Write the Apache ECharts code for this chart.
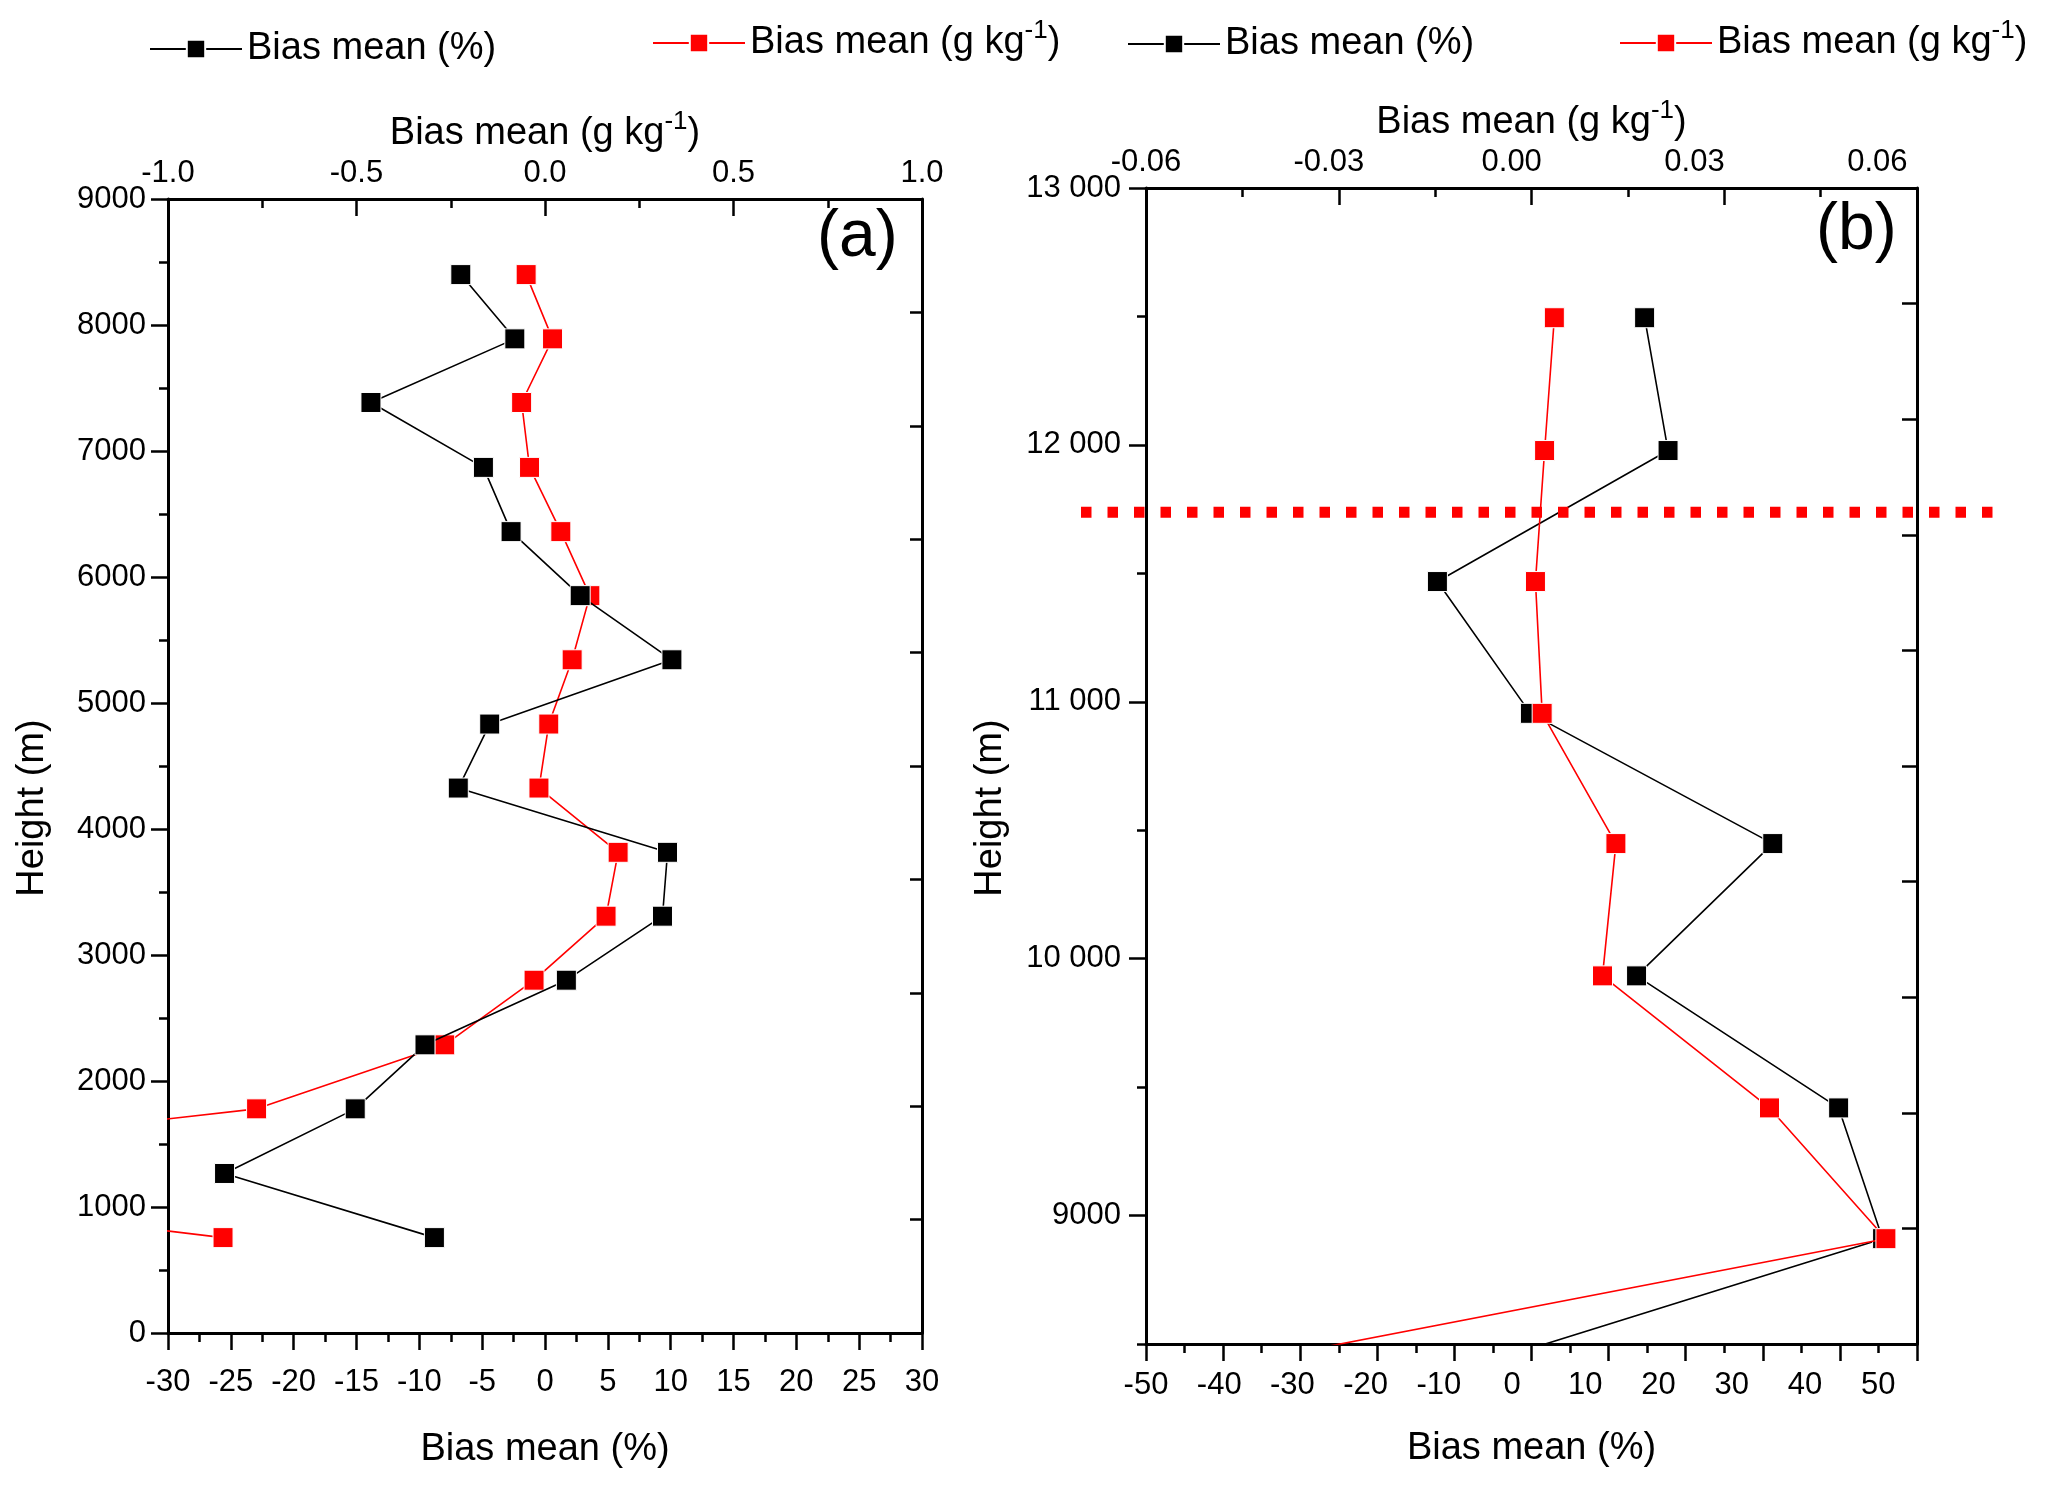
<!DOCTYPE html>
<html><head><meta charset="utf-8">
<script src="https://cdn.jsdelivr.net/npm/echarts@6/dist/echarts.min.js"></script>
<style>html,body{margin:0;padding:0;background:#fff}#c{width:2067px;height:1489px}</style>
</head><body><div id="c"></div>
<script>
// ---------- Panel (a) ----------
const heightsA = [8400, 7890, 7385, 6870, 6360, 5852, 5343, 4833, 4325, 3815, 3308, 2800, 2287, 1779, 1266, 757];
const pctA = [-6.7, -2.4, -13.85, -4.9, -2.7, 2.8, 10.1, -4.4, -6.9, 9.75, 9.35, 1.7, -9.55, -15.1, -25.5, -8.8];
const gkgA = [-0.05, 0.02, -0.062, -0.041, 0.042, 0.119, 0.072, 0.010, -0.016, 0.194, 0.162, -0.029, -0.266, -0.765, -2.27, -0.854];
// ---------- Panel (b) ----------
const heightsB = [12495, 11978, 11468, 10955, 10448, 9933, 9419, 8910, 8400];
const pctB = [18.1, 21.3, -10.2, 2.5, 35.6, 17.0, 44.6, 50.6, -6.7];
const gkgB = [0.007, 0.0054, 0.0039, 0.005, 0.0171, 0.0149, 0.0423, 0.0614, -0.05];
const tropopauseB = 11738;
// ---------- Tick labels ----------
const pctTicksB = [-50, -40, -30, -20, -10, 0, 10, 20, 30, 40, 50];
const gkgTicksB = [-0.06, -0.03, 0, 0.03, 0.06];
const heightTicksB = [9000, 10000, 11000, 12000, 13000];
const legendNames = ['Bias mean (%)', 'Bias mean (g kg-1)', 'Bias mean (%)', 'Bias mean (g kg-1)'];

const FONT = 'Liberation Sans';
const supName = '{n|Bias mean (g kg}{s|-1}{n|)}';
const richT = {
  n: { fontSize: 38, lineHeight: 50, fontFamily: FONT, color: '#000' },
  s: { fontSize: 26, lineHeight: 26, verticalAlign: 'top', fontFamily: FONT, color: '#000' }
};
const lineC = { onZero: false, lineStyle: { color: '#000', width: 3 } };
function tick(len, inside) { return { show: true, inside: !!inside, length: len, lineStyle: { color: '#000', width: 2.5 } }; }
function minor(len) { return { show: true, splitNumber: 2, length: len, lineStyle: { color: '#000', width: 2.5 } }; }
const lab = (m) => ({ color: '#000', fontSize: 31, fontFamily: FONT, margin: m });
const noSplit = { show: false };
const hidLine = { show: false, onZero: false };

function pair(a, b) { return a.map((v, i) => [v, b[i]]); }
function fmtH(v) { return v >= 10000 ? String(v).replace(/(\d+)(\d{3})$/, '$1 $2') : String(v); }

const chart = echarts.init(document.getElementById('c'), null, { renderer: 'canvas' });

const option = {
  backgroundColor: '#fff',
  animation: false,
  textStyle: { fontFamily: FONT },
  title: [
    { text: '(a)', left: 817, top: 205, padding: 0, textStyle: { fontSize: 66, fontWeight: 'normal', fontFamily: FONT, color: '#000' } },
    { text: '(b)', left: 1816, top: 198, padding: 0, textStyle: { fontSize: 66, fontWeight: 'normal', fontFamily: FONT, color: '#000' } }
  ],
  legend: ['aPct', 'aG', 'bPct', 'bG'].map((nm, i) => ({
    data: [nm],
    left: [149, 652, 1127, 1619][i],
    top: [30, 18, 25, 18][i],
    padding: 0,
    itemWidth: 92,
    itemHeight: 23,
    formatter: () => legendNames[i].indexOf('-1') >= 0 ? supName : '{n|' + legendNames[i] + '}',
    textStyle: { rich: richT }
  })),
  grid: [
    { left: 168, top: 199, width: 754, height: 1134 },
    { left: 1146, top: 188, width: 771, height: 1156 },
    { left: 1081, top: 188, width: 913, height: 1156 }
  ],
  xAxis: [
    // 0: panel a bottom (%)
    { gridIndex: 0, type: 'value', position: 'bottom', min: -30, max: 30, interval: 5,
      axisLine: lineC, axisTick: tick(17), minorTick: minor(9), splitLine: noSplit, minorSplitLine: noSplit,
      axisLabel: lab(34),
      name: 'Bias mean (%)', nameLocation: 'middle', nameGap: 92,
      nameTextStyle: { fontSize: 38, lineHeight: 50, color: '#000', fontFamily: FONT } },
    // 1: panel a top (g/kg)
    { gridIndex: 0, type: 'value', position: 'top', min: -1, max: 1, interval: 0.5,
      axisLine: lineC, axisTick: tick(17, true), minorTick: minor(9), splitLine: noSplit, minorSplitLine: noSplit,
      axisLabel: Object.assign(lab(10), { formatter: v => v.toFixed(1) }),
      name: supName, nameLocation: 'middle', nameGap: 40,
      nameTextStyle: { rich: richT } },
    // 2: panel b bottom ticks
    { gridIndex: 1, type: 'value', position: 'bottom', min: -50, max: 50, interval: 10,
      axisLine: lineC, axisTick: tick(17), minorTick: minor(9), splitLine: noSplit, minorSplitLine: noSplit,
      axisLabel: { show: false } },
    // 3: panel b bottom labels (data)
    { gridIndex: 1, type: 'value', position: 'bottom', min: -50, max: 55.3,
      axisLine: hidLine, axisTick: { show: false }, splitLine: noSplit,
      axisLabel: Object.assign(lab(26), { customValues: pctTicksB }),
      name: 'Bias mean (%)', nameLocation: 'middle', nameGap: 80,
      nameTextStyle: { fontSize: 38, lineHeight: 50, color: '#000', fontFamily: FONT } },
    // 4: panel b top ticks
    { gridIndex: 1, type: 'value', position: 'top', min: -0.06, max: 0.06, interval: 0.03,
      axisLine: lineC, axisTick: tick(17, true), minorTick: minor(9), splitLine: noSplit, minorSplitLine: noSplit,
      axisLabel: { show: false } },
    // 5: panel b top labels (data)
    { gridIndex: 1, type: 'value', position: 'top', min: -0.06, max: 0.0665,
      axisLine: hidLine, axisTick: { show: false }, splitLine: noSplit,
      axisLabel: Object.assign(lab(10), { customValues: gkgTicksB, formatter: v => v.toFixed(2) }),
      name: supName, nameLocation: 'middle', nameGap: 40,
      nameTextStyle: { rich: richT } },
    // 6: helper for tropopause line
    { gridIndex: 2, type: 'value', min: 0, max: 1, show: false, axisLine: hidLine }
  ],
  yAxis: [
    // 0: panel a left
    { gridIndex: 0, type: 'value', position: 'left', min: 0, max: 9000, interval: 1000,
      axisLine: lineC, axisTick: tick(17), minorTick: minor(9), splitLine: noSplit, minorSplitLine: noSplit,
      axisLabel: Object.assign(lab(22), { formatter: v => String(v) }),
      name: 'Height (m)', nameLocation: 'middle', nameGap: 110,
      nameTextStyle: { fontSize: 38, lineHeight: 50, color: '#000', fontFamily: FONT, padding: [0, 84, 0, 0] } },
    // 1: panel a right
    { gridIndex: 0, type: 'value', position: 'right', min: 0, max: 10, interval: 1,
      axisLine: lineC, axisTick: tick(12, true), splitLine: noSplit, axisLabel: { show: false } },
    // 2: panel b left minor ticks (data)
    { gridIndex: 1, type: 'value', position: 'left', min: 8500, max: 13000, interval: 500,
      axisLine: lineC, axisTick: tick(9), splitLine: noSplit, axisLabel: { show: false },
      name: 'Height (m)', nameLocation: 'middle', nameGap: 130,
      nameTextStyle: { fontSize: 38, lineHeight: 50, color: '#000', fontFamily: FONT, padding: [0, 84, 0, 0] } },
    // 3: panel b left major ticks + labels
    { gridIndex: 1, type: 'value', position: 'left', min: 8500, max: 13000,
      axisLine: hidLine, splitLine: noSplit,
      axisTick: Object.assign(tick(17), { customValues: heightTicksB }),
      axisLabel: Object.assign(lab(25), { customValues: heightTicksB, formatter: fmtH }) },
    // 4: panel b right
    { gridIndex: 1, type: 'value', position: 'right', min: 0, max: 10, interval: 1,
      axisLine: lineC, axisTick: tick(15, true), splitLine: noSplit, axisLabel: { show: false } },
    // 5: helper for tropopause line
    { gridIndex: 2, type: 'value', min: 8500, max: 13000, show: false, axisLine: hidLine }
  ],
  series: [
    { name: 'aG', type: 'line', xAxisIndex: 1, yAxisIndex: 0, data: pair(gkgA, heightsA), z: 2,
      symbol: 'rect', symbolSize: 20, color: '#ff0000',
      lineStyle: { color: '#ff0000', width: 1.6 }, itemStyle: { color: '#ff0000', borderColor: '#fff', borderWidth: 1 } },
    { name: 'aPct', type: 'line', xAxisIndex: 0, yAxisIndex: 0, data: pair(pctA, heightsA), z: 3,
      symbol: 'rect', symbolSize: 20, color: '#000',
      lineStyle: { color: '#000', width: 1.6 }, itemStyle: { color: '#000', borderColor: '#fff', borderWidth: 1 } },
    { name: 'bPct', type: 'line', xAxisIndex: 3, yAxisIndex: 2, data: pair(pctB, heightsB), z: 2,
      symbol: 'rect', symbolSize: 20, color: '#000',
      lineStyle: { color: '#000', width: 1.6 }, itemStyle: { color: '#000', borderColor: '#fff', borderWidth: 1 } },
    { name: 'bG', type: 'line', xAxisIndex: 5, yAxisIndex: 2, data: pair(gkgB, heightsB), z: 3,
      symbol: 'rect', symbolSize: 20, color: '#ff0000',
      lineStyle: { color: '#ff0000', width: 1.6 }, itemStyle: { color: '#ff0000', borderColor: '#fff', borderWidth: 1 } },
    { name: 'tropopause', type: 'line', xAxisIndex: 6, yAxisIndex: 5, z: 4,
      data: [[0, tropopauseB], [1, tropopauseB]], symbol: 'none', silent: true,
      lineStyle: { color: '#ff0000', width: 11, type: [10.5, 16], cap: 'butt' } }
  ]
};
chart.setOption(option);
</script>
</body></html>
